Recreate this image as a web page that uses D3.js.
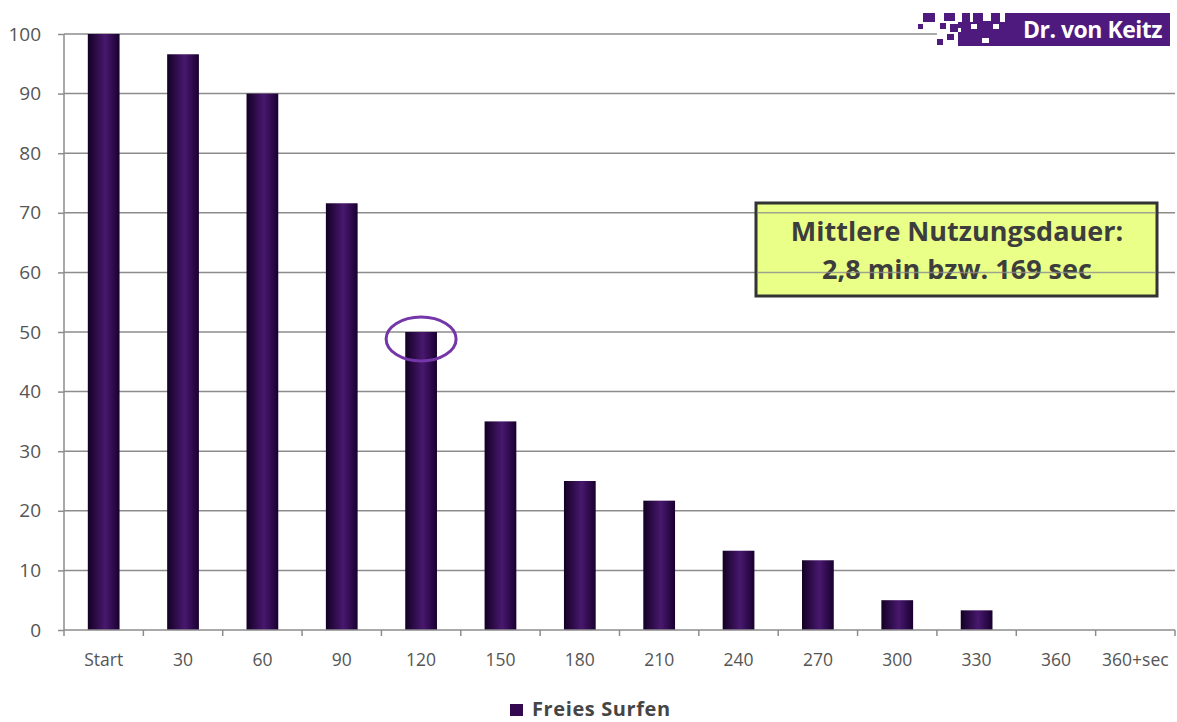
<!DOCTYPE html>
<html lang="de">
<head>
<meta charset="UTF-8">
<title>Freies Surfen – Nutzungsdauer</title>
<script src="https://d3js.org/d3.v7.min.js"></script>
<style>
 body {margin: 0; background: #fff; font-family: "Open Sans", Lato, sans-serif;}
 .grid line {stroke: #8c8c8c; stroke-width: 1.5px;}
 .axis path, .axis line {stroke: #8c8c8c; stroke-width: 1.5px;}
 .axis text {fill: #555; font-size: 16px; font-family: "Open Sans", sans-serif;}
 .ytick text {font-size: 19px;}
</style>
</head>
<body>
<svg id="chart" width="1177" height="722"></svg>
<script>
const categories = ['Start', '30', '60', '90', '120', '150', '180', '210', '240', '270', '300', '330', '360', '360+sec'];
const values = [100, 96.6, 90, 71.6, 50, 35, 25, 21.7, 13.3, 11.7, 5, 3.3, 0, 0];
const yTicks = [0, 10, 20, 30, 40, 50, 60, 70, 80, 90, 100];
const seriesName = 'Freies Surfen';
const noteLines = ['Mittlere Nutzungsdauer:', '2,8 min bzw. 169 sec'];
const highlight = '120';

const svg = d3.select('#chart');
const plotLeft = 64, plotRight = 1175, plotTop = 34, plotBottom = 630;

const x = d3.scaleBand().domain(categories).range([plotLeft, plotRight]).paddingInner(0.6).paddingOuter(0.3);
const xb = d3.scaleBand().domain(categories).range([plotLeft, plotRight]);
const y = d3.scaleLinear().domain([0, 100]).range([plotBottom, plotTop]);

// bar gradient
const defs = svg.append('defs');
const grad = defs.append('linearGradient').attr('id', 'barGrad').attr('x1', 0).attr('x2', 1).attr('y1', 0).attr('y2', 0);
grad.append('stop').attr('offset', '0%').attr('stop-color', '#130024');
grad.append('stop').attr('offset', '55%').attr('stop-color', '#48186e');
grad.append('stop').attr('offset', '100%').attr('stop-color', '#190030');

// gridlines
svg.append('g').attr('class', 'grid')
  .selectAll('line').data(yTicks.filter(d => d > 0)).enter()
  .append('line')
  .attr('x1', plotLeft).attr('x2', plotRight)
  .attr('y1', d => y(d)).attr('y2', d => y(d));

// bars
svg.append('g').selectAll('rect').data(values).enter()
  .append('rect')
  .attr('x', (d, i) => x(categories[i]))
  .attr('width', x.bandwidth())
  .attr('y', d => y(d))
  .attr('height', d => plotBottom - y(d))
  .attr('fill', 'url(#barGrad)');

// y axis
const yAxis = svg.append('g').attr('class', 'axis ytick')
  .attr('transform', `translate(${plotLeft},0)`)
  .call(d3.axisLeft(y).tickValues(yTicks).tickSize(6).tickPadding(17));
yAxis.select('.domain').attr('d', `M0,${plotTop}V${plotBottom}`);

// x axis, ticks sit on the band edges
const xAxis = svg.append('g').attr('class', 'axis')
  .attr('transform', `translate(0,${plotBottom})`);
xAxis.append('line').attr('x1', plotLeft).attr('x2', plotRight).attr('y1', 0).attr('y2', 0);
xAxis.selectAll('.tk').data(categories.concat(['end'])).enter()
  .append('line').attr('class', 'tk')
  .attr('x1', (d, i) => i < categories.length ? xb(d) : plotRight)
  .attr('x2', (d, i) => i < categories.length ? xb(d) : plotRight)
  .attr('y1', 0).attr('y2', 6);
xAxis.selectAll('text').data(categories).enter()
  .append('text')
  .attr('x', d => xb(d) + xb.bandwidth() / 2)
  .attr('y', 36)
  .attr('text-anchor', 'middle')
  .style('font-size', '17.5px')
  .text(d => d);

// highlight ellipse
svg.append('ellipse')
  .attr('cx', x(highlight) + x.bandwidth() / 2)
  .attr('cy', y(values[categories.indexOf(highlight)]) + 7)
  .attr('rx', 35).attr('ry', 22)
  .attr('fill', 'none').attr('stroke', '#7436a8').attr('stroke-width', 3);

// annotation box
const note = svg.append('g');
note.append('rect').attr('x', 756).attr('y', 203).attr('width', 401).attr('height', 93)
  .attr('fill', '#e9ff88').attr('stroke', '#333').attr('stroke-width', 3);
note.selectAll('text').data(noteLines).enter()
  .append('text')
  .attr('x', 957).attr('y', (d, i) => 241 + i * 38)
  .attr('text-anchor', 'middle')
  .attr('font-size', 27).attr('font-weight', 'bold').attr('fill', '#3d3d3d')
  .text(d => d);
// gridlines run through the note box
svg.append('g').attr('class', 'grid')
  .selectAll('line').data([70, 60]).enter()
  .append('line')
  .attr('x1', 757).attr('x2', 1156)
  .attr('y1', d => y(d)).attr('y2', d => y(d))
  .style('stroke-opacity', 0.8);

// logo
const logo = svg.append('g');
logo.append('rect').attr('x', 937).attr('y', 8).attr('width', 240).attr('height', 42).attr('fill', '#fff');
logo.append('rect').attr('x', 958).attr('y', 13).attr('width', 212).attr('height', 33).attr('fill', '#4e1a7e');
const pixelsOn = [[923, 13, 12, 9], [944, 13, 11, 8], [918, 24, 5, 5], [940, 23, 6, 6], [950, 24, 8, 8], [937, 39, 6, 6], [947, 34, 7, 6]];
const pixelsOff = [[958, 13, 4, 9], [970, 13, 3, 9], [983, 13, 8, 8], [1000, 13, 5, 9], [971, 24, 6, 5], [993, 24, 6, 5], [958, 28, 3, 4], [982, 38, 7, 5]];
logo.selectAll('.on').data(pixelsOn).enter()
  .append('rect').attr('class', 'on')
  .attr('x', d => d[0]).attr('y', d => d[1]).attr('width', d => d[2]).attr('height', d => d[3])
  .attr('fill', '#4e1a7e');
logo.selectAll('.off').data(pixelsOff).enter()
  .append('rect').attr('class', 'off')
  .attr('x', d => d[0]).attr('y', d => d[1]).attr('width', d => d[2]).attr('height', d => d[3])
  .attr('fill', '#fff');
logo.append('text').attr('x', 1162).attr('y', 38).attr('text-anchor', 'end')
  .attr('font-size', 23).attr('font-weight', 'bold').attr('fill', '#fff')
  .attr('letter-spacing', -0.5)
  .text('Dr. von Keitz');

// legend
const legend = svg.append('g').attr('transform', 'translate(510,704)');
legend.append('rect').attr('width', 13).attr('height', 12).attr('fill', '#34094f');
legend.append('text').attr('x', 22).attr('y', 12)
  .attr('font-size', 20).attr('font-weight', 'bold').attr('fill', '#454545')
  .attr('letter-spacing', 0.6)
  .text(seriesName);
</script>
</body>
</html>
